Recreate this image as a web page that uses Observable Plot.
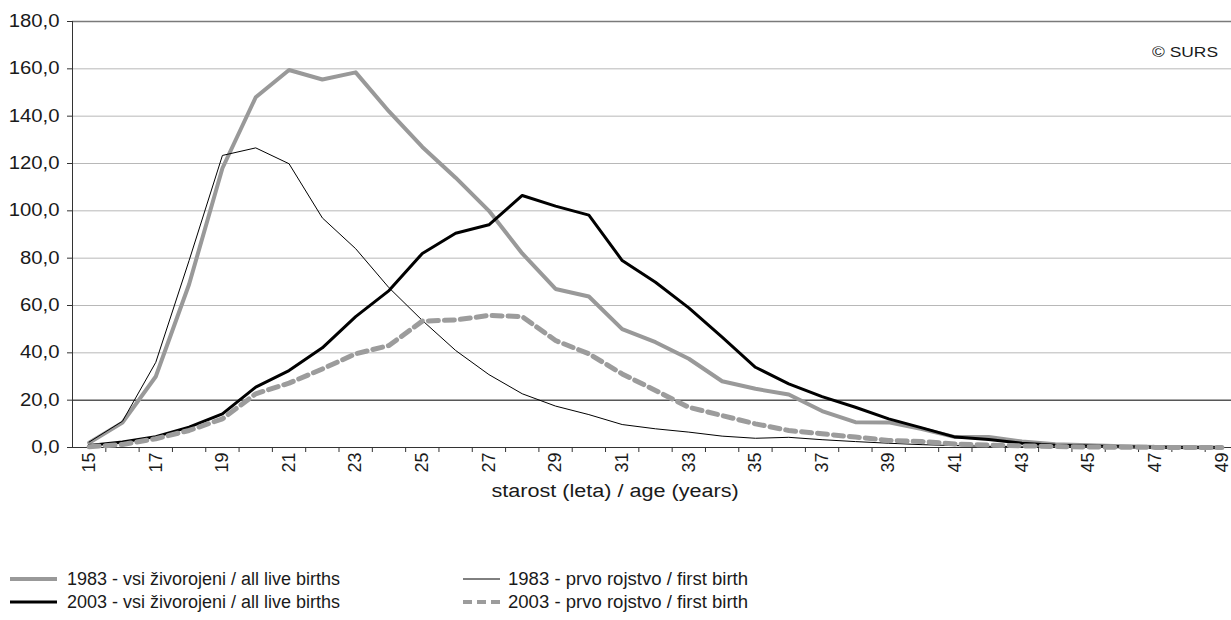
<!DOCTYPE html>
<html><head><meta charset="utf-8">
<script src="https://cdn.jsdelivr.net/npm/d3@7"></script>
<script src="https://cdn.jsdelivr.net/npm/@observablehq/plot@0.6"></script>
<style>
body{margin:0;background:#fff;width:1231px;height:620px;overflow:hidden;position:relative;font-family:"Liberation Sans",Arial,sans-serif;color:#1a1a1a}
#chart{position:absolute;left:0;top:0}
.t{position:absolute;white-space:nowrap;font-size:18px;line-height:20px}
.s{display:inline-block;transform-origin:0 50%}
.sw{position:absolute}
</style></head><body>
<div id="chart"></div>
<div class="t" style="left:0;width:1231px;top:481px;text-align:center;font-size:18px"><span class="s" style="transform:scaleX(1.2);transform-origin:50% 50%">starost (leta) / age (years)</span></div>
<div class="t" style="left:1152px;top:42px;font-size:15px"><span class="s" style="transform:scaleX(1.16)">© SURS</span></div>
<div id="legend"></div>
<script>
const ages = [15,16,17,18,19,20,21,22,23,24,25,26,27,28,29,30,31,32,33,34,35,36,37,38,39,40,41,42,43,44,45,46,47,48,49];
const all1983 = [2,10.5,30,69,118,148,159.5,155.5,158.5,142,127,114,100,82,67,63.8,50,44.5,37.5,28,24.8,22.4,15.4,10.7,10.6,7.8,4.4,4.4,2.5,1.4,0.9,0.5,0.2,0.1,0.05];
const first1983 = [2.3,11.1,36,79,123.4,126.6,119.9,97,84,67.5,53.7,41,30.8,22.7,17.5,13.9,9.7,7.9,6.5,4.8,3.9,4.3,3.3,2.5,1.8,1.2,0.8,0.5,0.3,0.2,0.1,0.05,0.02,0,0];
const all2003 = [0.8,2.3,4.6,8.6,14.2,25.5,32.5,42.1,55.3,66.3,82,90.5,94.1,106.5,102,98.2,79,69.8,59,46.6,33.9,26.9,21.5,17,12.1,8.3,4.4,3.4,1.8,1,0.6,0.3,0.1,0.05,0];
const first2003 = [0.3,1.3,3.7,7.2,12.1,22.7,27.2,33.2,39.6,43.1,53.4,53.9,55.8,55.3,45.2,39.6,31.1,24.1,17,13.5,10,7.2,5.8,4.4,3.0,2.5,1.5,1.0,0.7,0.4,0.2,0.1,0.05,0,0];
const yTicks = [0,20,40,60,80,100,120,140,160,180];
const xTickLabels = [15,17,19,21,23,25,27,29,31,33,35,37,39,41,43,45,47,49];
const seriesNames = ["1983 - vsi živorojeni / all live births","1983 - prvo rojstvo / first birth","2003 - vsi živorojeni / all live births","2003 - prvo rojstvo / first birth"];

const toRows = arr => ages.map((a,i)=>({age:a, value:arr[i]}));
const boundaries = ages.slice(1).map(a=>a-0.5);
const xMin = ages[0]-0.5, xMax = ages[ages.length-1]+0.5;

const styles = [
  {stroke:"#999999", strokeWidth:4},
  {stroke:"#000000", strokeWidth:1},
  {stroke:"#000000", strokeWidth:3},
  {stroke:"#9c9c9c", strokeWidth:5, strokeDasharray:"10,6"}
];
const dataSets = [all1983, first1983, all2003, first2003];

const chart = Plot.plot({
  width:1231, height:480,
  marginTop:21, marginBottom:33, marginLeft:72, marginRight:0,
  x:{domain:[xMin,xMax], range:[72,1238], label:null},
  y:{domain:[0,180], label:null},
  style:{fontFamily:'"Liberation Sans",Arial,sans-serif', fontSize:"17px", color:"#1a1a1a", background:"#fff"},
  marks:[
    Plot.ruleY(yTicks.filter(d=>d>20 && d<180), {stroke:"#b8b8b8", strokeWidth:1}),
    Plot.ruleY([20], {stroke:"#000", strokeWidth:1}),
    Plot.ruleY([180], {stroke:"#7a7a7a", strokeWidth:1.6}),
    Plot.axisY({ticks:yTicks, tickFormat:d=>d.toFixed(1).replace(".",","), tickSize:5, tickPadding:8, fontSize:17.5, stroke:"#333", label:null}),
    Plot.axisX({ticks:boundaries, tickSize:5, tickFormat:()=>"", stroke:"#333", label:null}),
    Plot.axisX({ticks:xTickLabels, tickSize:0, tickRotate:-90, tickPadding:5, fontSize:18, label:null}),
    Plot.ruleX([xMin], {stroke:"#333", strokeWidth:1}),
    Plot.ruleY([0], {stroke:"#333", strokeWidth:1}),
    ...dataSets.map((ds,i)=>Plot.line(toRows(ds), {x:"age", y:"value", ...styles[i]}))
  ]
});
document.getElementById("chart").appendChild(chart);
chart.querySelectorAll('g[aria-label="y-axis tick label"] text').forEach(t=>{
  const w = t.getComputedTextLength();
  t.setAttribute("textLength", w*1.16);
  t.setAttribute("lengthAdjust","spacingAndGlyphs");
});

// legend
const leg = document.getElementById("legend");
const pos = [{x:10,y:579,tx:67,sc:1},{x:463,y:579,tx:508,sc:1.03},{x:10,y:602,tx:67,sc:1},{x:463,y:602,tx:508,sc:1.03}];
seriesNames.forEach((name,i)=>{
  const p = pos[i], st = styles[i];
  const w = (i===1 || i===3) ? 37 : 47;
  const svg = d3.create("svg").attr("class","sw").attr("width",w).attr("height",8)
    .style("left",p.x+"px").style("top",(p.y-4)+"px");
  svg.append("line").attr("x1",0).attr("x2",w).attr("y1",4).attr("y2",4)
    .attr("stroke",st.stroke).attr("stroke-width",i===3?4:st.strokeWidth)
    .attr("stroke-dasharray", i===3 ? "9,5" : null);
  leg.appendChild(svg.node());
  const d = document.createElement("div");
  d.className="t"; d.style.left=p.tx+"px"; d.style.top=(p.y-10)+"px";
  d.innerHTML = '<span class="s" style="transform:scaleX('+p.sc+')">'+name+'</span>';
  leg.appendChild(d);
});
</script>
</body></html>
